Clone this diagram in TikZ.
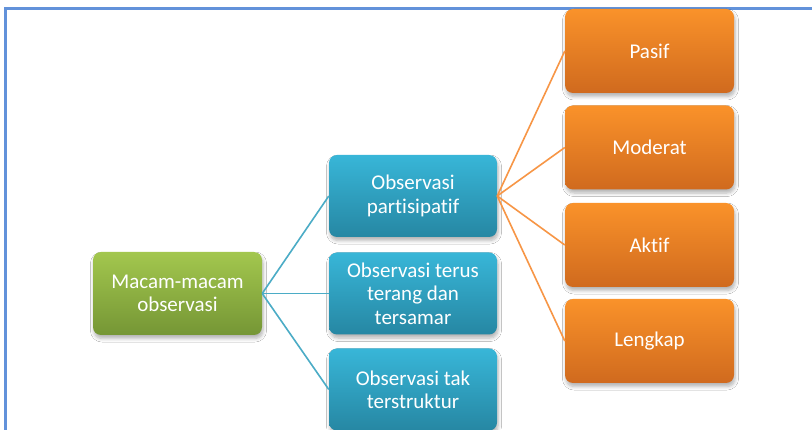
\documentclass[tikz,border=0pt]{standalone}
\usepackage{fontspec}
\setmainfont{Carlito}[Ligatures=NoCommon]
\usetikzlibrary{shadows.blur}

\definecolor{framecol}{RGB}{98,146,218}
\definecolor{greentop}{RGB}{163,199,78}
\definecolor{greenbot}{RGB}{117,150,53}
\definecolor{bluetop}{RGB}{56,182,216}
\definecolor{bluebot}{RGB}{38,135,163}
\definecolor{orangetop}{RGB}{250,146,42}
\definecolor{orangebot}{RGB}{208,106,30}
\definecolor{blueline}{RGB}{75,172,198}
\definecolor{orangeline}{RGB}{247,150,70}

\tikzset{
  card/.style={rectangle, rounded corners=8pt, text=white, align=center,
    font=\fontsize{21}{23.3}\selectfont,
    blur shadow={shadow xshift=1pt, shadow yshift=-3.5pt, shadow blur steps=6,
      shadow blur radius=3.5pt, shadow opacity=30}},
  rootcard/.style={card, top color=greentop, bottom color=greenbot,
    minimum width=169pt, minimum height=83pt},
  kindcard/.style={card, top color=bluetop, bottom color=bluebot,
    minimum width=168pt, minimum height=82pt},
  rolecard/.style={card, top color=orangetop, bottom color=orangebot,
    minimum width=169pt, minimum height=84pt},
  kindlink/.style={draw=blueline, line width=1.6pt},
  rolelink/.style={draw=orangeline, line width=1.6pt}
}

\begin{document}
\begin{tikzpicture}[x=1pt, y=-1pt]
  \useasboundingbox (0,0) rectangle (812,430);
  \fill[white] (0,0) rectangle (812,430);

  % page frame (open to the right and bottom)
  \draw[framecol, line width=2.6pt] (5.5,435) -- (5.5,8.5) -- (815,8.5);

  % root
  \node[rootcard] (root) at (177.5,293.5) {Macam-macam\\observasi};

  % kinds of observation
  \node[kindcard] (k1) at (413,196) {Observasi\\partisipatif};
  \node[kindcard] (k2) at (413,293.5) {Observasi terus\\terang dan\\tersamar};
  \node[kindcard] (k3) at (413,389.5) {Observasi tak\\terstruktur};

  % degrees of participation
  \node[rolecard] (r1) at (649.5,51) {Pasif};
  \node[rolecard] (r2) at (649.5,147.5) {Moderat};
  \node[rolecard] (r3) at (649.5,245) {Aktif};
  \node[rolecard] (r4) at (649.5,341) {Lengkap};

  % connectors
  \foreach \k in {k1,k2,k3}
    \draw[kindlink] (root.east) -- (\k.west);
  \foreach \r in {r1,r2,r3,r4}
    \draw[rolelink] (k1.east) -- (\r.west);
\end{tikzpicture}
\end{document}
